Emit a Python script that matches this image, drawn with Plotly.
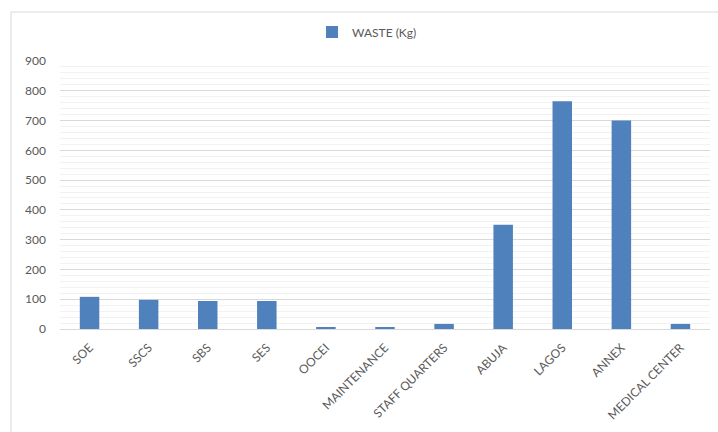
import plotly.graph_objects as go

categories = ["SOE", "SSCS", "SBS", "SES", "OOCEI", "MAINTENANCE", "STAFF QUARTERS",
              "ABUJA", "LAGOS", "ANNEX", "MEDICAL CENTER"]
waste_kg = [108, 98, 94, 94, 5, 5, 17, 350, 765, 700, 17]
y_ticks = [0, 100, 200, 300, 400, 500, 600, 700, 800, 900]
series_name = "WASTE (Kg)"

fig = go.Figure()
fig.add_trace(go.Bar(
    x=categories, y=waste_kg, name=series_name,
    marker=dict(color="#4f81bd", line=dict(width=0)),
    width=0.33, showlegend=True,
))

W, H = 718, 432
ml, mr, mt, mb = 60, 8, 61, 103
pw, ph = W - ml - mr, H - mt - mb

fig.update_layout(
    width=W, height=H,
    margin=dict(l=ml, r=mr, t=mt, b=mb, pad=0),
    paper_bgcolor="white", plot_bgcolor="white",
    font=dict(family="Lato, 'Open Sans', sans-serif", size=12, color="#595959"),
    showlegend=True,
    legend=dict(orientation="h", x=0.5 - 18 / pw, xanchor="center",
                y=(329 - 32) / ph, yanchor="middle",
                font=dict(size=12, color="#595959"),
                itemwidth=30, bgcolor="rgba(0,0,0,0)"),
    xaxis=dict(showgrid=False, tickangle=-45, ticks="", showline=True,
               linecolor="#d9d9d9", linewidth=1, ticklabelstandoff=6,
               tickfont=dict(size=12, color="#595959")),
    yaxis=dict(range=[0, 900], tickvals=y_ticks, showgrid=True,
               gridcolor="#d9d9d9", gridwidth=1, zeroline=False,
               showline=False, ticks="", ticklabelstandoff=13,
               tickfont=dict(size=12, color="#595959"),
               minor=dict(dtick=20, showgrid=True, gridcolor="#f2f2f2", gridwidth=1)),
    shapes=[dict(type="rect", xref="paper", yref="paper",
                 x0=(11 - ml) / pw, x1=(W + 20 - ml) / pw,
                 y0=(329 - (H + 20)) / ph, y1=(329 - 12) / ph,
                 line=dict(color="#d9d9d9", width=1), fillcolor="rgba(0,0,0,0)",
                 layer="below")],
)

fig.write_html("out.html")
